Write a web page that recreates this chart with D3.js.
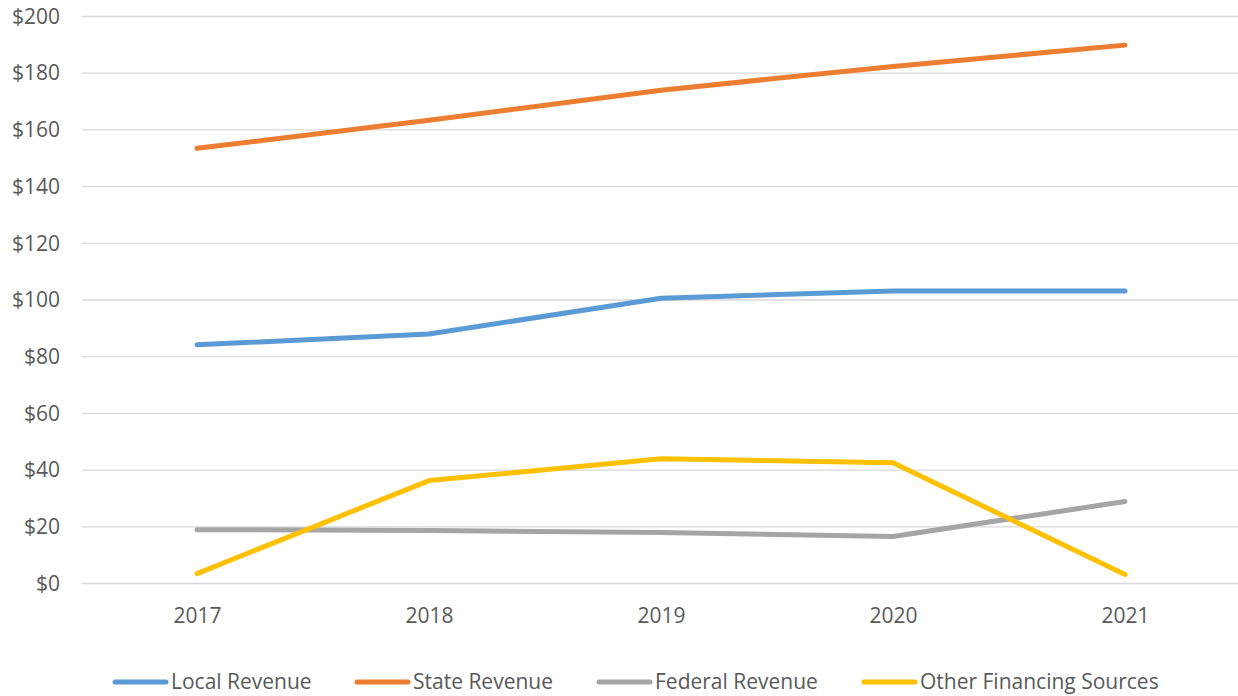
<!DOCTYPE html>
<html>
<head>
<meta charset="utf-8">
<script src="https://cdn.jsdelivr.net/npm/d3@7"></script>
<style>
  html, body { margin: 0; padding: 0; background: #fff; }
  svg { display: block; }
  text { font-family: "Open Sans", "Noto Sans", sans-serif; fill: #595959; }
</style>
</head>
<body>
<svg id="chart" width="1238" height="696"></svg>
<script>
// Revenue by source, in millions of dollars
const years = ["2017", "2018", "2019", "2020", "2021"];
const localRevenue = [84.2, 88.0, 100.6, 103.2, 103.2];
const stateRevenue = [153.5, 163.4, 174.0, 182.4, 189.9];
const federalRevenue = [19.0, 18.7, 18.0, 16.6, 28.9];
const otherFinancing = [3.5, 36.3, 44.0, 42.6, 3.2];
const yTicks = [0, 20, 40, 60, 80, 100, 120, 140, 160, 180, 200];

const seriesNames = ["Local Revenue", "State Revenue", "Federal Revenue", "Other Financing Sources"];
const seriesValues = [localRevenue, stateRevenue, federalRevenue, otherFinancing];
const colors = ["#5B9BD5", "#ED7D31", "#A5A5A5", "#FFC000"];

const svg = d3.select("#chart");
const plotLeft = 81, plotRight = 1241, plotTop = 16.5, plotBottom = 583.5;
const fontSize = 21;

const x = d3.scalePoint().domain(years).range([plotLeft, plotRight]).padding(0.5);
const y = d3.scaleLinear().domain([0, 200]).range([plotBottom, plotTop]);

// horizontal gridlines
svg.append("g")
  .selectAll("line")
  .data(yTicks)
  .join("line")
  .attr("x1", 82).attr("x2", 1238)
  .attr("y1", d => y(d)).attr("y2", d => y(d))
  .attr("stroke", "#D9D9D9").attr("stroke-width", 1.3);

// y axis labels
const yAxis = d3.axisLeft(y).tickValues(yTicks).tickFormat(d => "$" + d).tickSize(0).tickPadding(0);
const gy = svg.append("g").attr("transform", "translate(60,0)").call(yAxis);
gy.select(".domain").remove();
gy.selectAll("text").attr("font-size", fontSize).attr("fill", "#595959")
  .attr("font-family", "\"Open Sans\", sans-serif");

// x axis labels
const xAxis = d3.axisBottom(x).tickSize(0).tickPadding(0);
const gx = svg.append("g").attr("transform", "translate(0,608)").call(xAxis);
gx.select(".domain").remove();
gx.selectAll("text").attr("font-size", fontSize).attr("fill", "#595959")
  .attr("font-family", "\"Open Sans\", sans-serif");

// series lines
const line = d3.line().x((d, i) => x(years[i])).y(d => y(d));
svg.append("g")
  .selectAll("path")
  .data(seriesValues)
  .join("path")
  .attr("d", d => line(d))
  .attr("fill", "none")
  .attr("stroke", (d, i) => colors[i])
  .attr("stroke-width", 5)
  .attr("stroke-linecap", "round")
  .attr("stroke-linejoin", "round");

// legend
const legendX = [113, 355, 597, 862];
const lg = svg.append("g");
seriesNames.forEach((name, i) => {
  lg.append("line")
    .attr("x1", legendX[i] + 2).attr("x2", legendX[i] + 53)
    .attr("y1", 682).attr("y2", 682)
    .attr("stroke", colors[i]).attr("stroke-width", 5)
    .attr("stroke-linecap", "round");
  lg.append("text")
    .attr("x", legendX[i] + 58).attr("y", 682)
    .attr("dy", "0.35em")
    .attr("font-size", fontSize)
    .text(name);
});
</script>
</body>
</html>
